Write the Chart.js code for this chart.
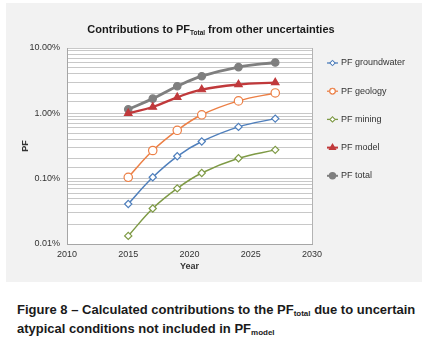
<!DOCTYPE html>
<html>
<head>
<meta charset="utf-8">
<script src="https://cdn.jsdelivr.net/npm/chart.js@4/dist/chart.umd.min.js"></script>
<style>
  body { margin: 0; width: 422px; height: 355px; background: #fff; font-family: "Liberation Sans", Arial, sans-serif; position: relative; overflow: hidden; }
  #panel { position: absolute; left: 6px; top: 3px; width: 416px; height: 279px; background: #f2f2f2; }
  #chartTitle { position: absolute; left: 0; width: 410px; top: 20px; text-align: center; font-weight: bold; font-size: 11px; color: #1a1a1a; }
  #chartTitle sub { font-size: 6.5px; vertical-align: -2px; }
  #caption { position: absolute; left: 17px; top: 302px; font-weight: bold; font-size: 13px; line-height: 15px; color: #1a1a1a; }
  #caption sub { font-size: 8px; vertical-align: -2px; }
  canvas { position: absolute; left: 0; top: 0; }
</style>
</head>
<body>
<div id="panel">
  <canvas id="chart" width="416" height="279"></canvas>
  <div id="chartTitle">Contributions to PF<sub>Total</sub> from other uncertainties</div>
</div>
<div id="caption">Figure 8 – Calculated contributions to the PF<sub>total</sub> due to uncertain<br>atypical conditions not included in PF<sub>model</sub></div>
<script>
// values in percent
var years = [2015, 2017, 2019, 2021, 2024, 2027];
var groundwater = [0.041, 0.105, 0.22, 0.37, 0.62, 0.83];
var geology = [0.105, 0.27, 0.55, 0.95, 1.55, 2.05];
var mining = [0.0133, 0.035, 0.071, 0.122, 0.205, 0.276];
var model = [1.0, 1.25, 1.76, 2.31, 2.76, 2.96];
var total = [1.15, 1.68, 2.6, 3.7, 5.1, 6.0];
var seriesNames = ["PF groundwater", "PF geology", "PF mining", "PF model", "PF total"];
var yTicks = [0.01, 0.1, 1, 10];
var xTicks = [2010, 2015, 2020, 2025, 2030];

function points(vals) {
    return years.map(function (y, i) { return { x: y, y: vals[i] }; });
}

function series(label, vals, color, style, radius, width, filled) {
    return {
        label: label,
        data: points(vals),
        borderColor: color,
        backgroundColor: filled ? color : '#ffffff',
        borderWidth: width,
        pointStyle: style,
        pointRadius: radius,
        pointBorderColor: color,
        pointBackgroundColor: filled ? color : '#ffffff',
        pointBorderWidth: 1.2,
        tension: 0.4,
        fill: false
    };
}

var datasets = [
    series(seriesNames[0], groundwater, '#4f7fbc', 'rectRot', 3.6, 1.5, false),
    series(seriesNames[1], geology, '#ec7f45', 'circle', 4.2, 1.5, false),
    series(seriesNames[2], mining, '#7e9a45', 'rectRot', 3.6, 1.5, false),
    series(seriesNames[3], model, '#c0393b', 'triangle', 4.3, 2.3, true),
    series(seriesNames[4], total, '#7f7f7f', 'circle', 3.7, 2.8, true)
];

// white plot area
var plotBg = {
    id: 'plotBg',
    beforeDraw: function (chart) {
        var a = chart.chartArea, ctx = chart.ctx;
        ctx.save();
        ctx.fillStyle = '#ffffff';
        ctx.fillRect(a.left, a.top, a.right - a.left, a.bottom - a.top);
        ctx.restore();
    }
};

// legend on the right, short line through a small marker
var sideLegend = {
    id: 'sideLegend',
    afterDraw: function (chart) {
        var ctx = chart.ctx;
        var x0 = 321, x1 = 332, tx = 335, y0 = 60, step = 28.2;
        chart.data.datasets.forEach(function (ds, i) {
            var y = y0 + i * step;
            ctx.save();
            ctx.strokeStyle = ds.borderColor;
            ctx.lineWidth = ds.borderWidth > 2 ? 2 : 1.3;
            ctx.beginPath();
            ctx.moveTo(x0, y);
            ctx.lineTo(x1, y);
            ctx.stroke();
            Chart.helpers.drawPoint(ctx, {
                pointStyle: ds.pointStyle,
                radius: ds.pointStyle === 'rectRot' ? 2.4 : 2.7,
                rotation: 0,
                borderWidth: 1
            }, (x0 + x1) / 2, y);
            ctx.fillStyle = ds.pointBackgroundColor;
            ctx.strokeStyle = ds.pointBorderColor;
            ctx.lineWidth = 1;
            ctx.fill();
            ctx.stroke();
            ctx.fillStyle = '#333333';
            ctx.font = '9px "Liberation Sans", Arial, sans-serif';
            ctx.textBaseline = 'middle';
            ctx.fillText(ds.label, tx, y);
            ctx.restore();
        });
    }
};

new Chart(document.getElementById('chart'), {
    type: 'line',
    data: { datasets: datasets },
    options: {
        responsive: false,
        animation: false,
        layout: { padding: { left: 0, top: 45, right: 110, bottom: 10 } },
        plugins: {
            legend: { display: false },
            title: { display: false },
            tooltip: { enabled: false }
        },
        scales: {
            x: {
                type: 'linear',
                min: 2010,
                max: 2030,
                afterBuildTicks: function (scale) {
                    scale.ticks = xTicks.map(function (v) { return { value: v }; });
                },
                afterFit: function (scale) { scale.height = 28; },
                grid: {
                    drawTicks: false,
                    color: function (c) { return c.tick && c.tick.value === 2030 ? '#b3b3b3' : 'rgba(0,0,0,0)'; }
                },
                border: { color: '#a6a6a6', width: 1 },
                ticks: {
                    padding: 5,
                    color: '#333333',
                    font: { family: '"Liberation Sans", Arial, sans-serif', size: 9 },
                    callback: function (v) { return String(v); }
                },
                title: {
                    display: true,
                    text: 'Year',
                    color: '#333333',
                    font: { family: '"Liberation Sans", Arial, sans-serif', size: 9, weight: 'bold' },
                    padding: { top: 2, bottom: 0 }
                }
            },
            y: {
                type: 'logarithmic',
                min: 0.01,
                max: 10,
                afterFit: function (scale) { scale.width = 61; },
                grid: { drawTicks: false, color: '#c8c8c8' },
                border: { color: '#a6a6a6', width: 1 },
                ticks: {
                    autoSkip: false,
                    padding: 7,
                    color: '#333333',
                    font: { family: '"Liberation Sans", Arial, sans-serif', size: 9 },
                    callback: function (v) {
                        for (var i = 0; i < yTicks.length; i++) {
                            if (Math.abs(v - yTicks[i]) < yTicks[i] * 1e-6) return yTicks[i].toFixed(2) + '%';
                        }
                        return '';
                    }
                },
                title: {
                    display: true,
                    text: 'PF',
                    color: '#333333',
                    font: { family: '"Liberation Sans", Arial, sans-serif', size: 9, weight: 'bold' },
                    padding: { top: 14, bottom: 0 }
                }
            }
        }
    },
    plugins: [plotBg, sideLegend]
});
</script>
</body>
</html>
